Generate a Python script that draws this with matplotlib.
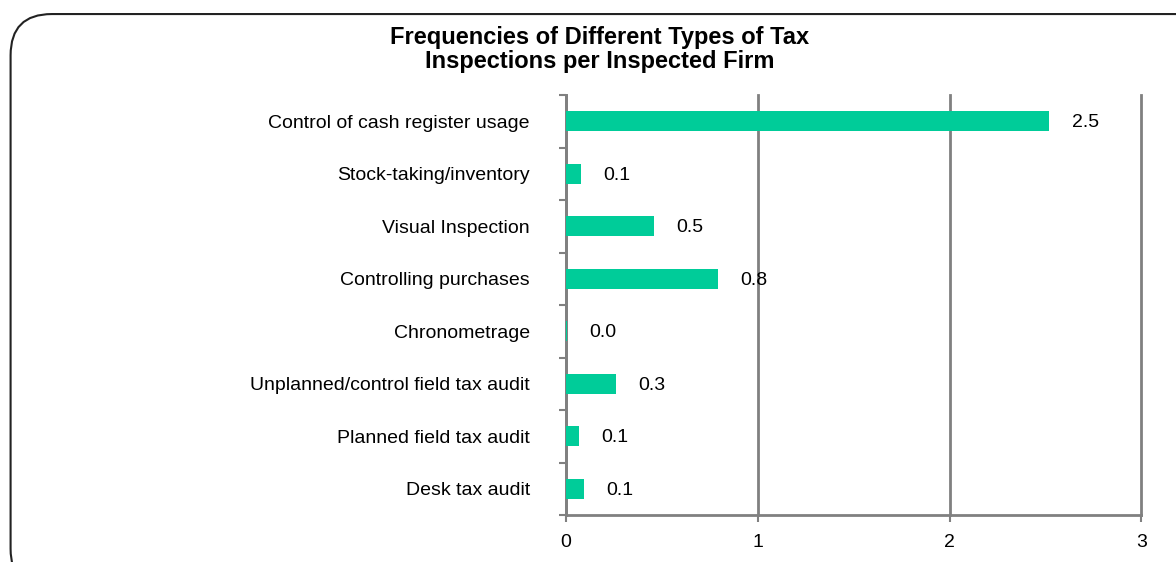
import matplotlib
matplotlib.use("Agg")
import matplotlib.pyplot as plt
from matplotlib.patches import FancyBboxPatch

categories = [
    "Control of cash register usage",
    "Stock-taking/inventory",
    "Visual Inspection",
    "Controlling purchases",
    "Chronometrage",
    "Unplanned/control field tax audit",
    "Planned field tax audit",
    "Desk tax audit",
]
values = [2.52, 0.08, 0.46, 0.79, 0.004, 0.26, 0.07, 0.095]
x_ticks = [0, 1, 2, 3]

plt.rcParams["font.family"] = ["Liberation Sans", "DejaVu Sans"]

fig = plt.figure(figsize=(11.76, 5.62), dpi=100)
ax = fig.add_axes([0.4813, 0.0836, 0.4893, 0.7473])

pos = list(range(len(categories)))
ax.barh(pos, values, height=0.38, color="#00CC99", zorder=3)

for y, v in zip(pos, values):
    ax.annotate(f"{v:.1f}", xy=(v, y), xytext=(16, -1), textcoords="offset points",
                va="center", ha="left", fontsize=14)

ax.set_xlim(0, 3)
ax.set_ylim(len(categories) - 0.5, -0.5)
ax.set_xticks(x_ticks)
ax.set_xticklabels([str(t) for t in x_ticks], fontsize=14)

# category boundaries get the tick marks, labels sit on minor ticks
ax.set_yticks([i - 0.5 for i in range(len(categories) + 1)])
ax.set_yticklabels([])
ax.set_yticks(pos, minor=True)
ax.set_yticklabels(categories, minor=True, fontsize=14)
ax.tick_params(axis="y", which="minor", length=0, pad=26)
ax.tick_params(axis="y", which="major", length=5, width=1.5, color="#808080", direction="out")
ax.tick_params(axis="x", length=5, width=1.5, color="#808080", pad=9)

ax.grid(axis="x", color="#808080", linewidth=2, zorder=0)
for gl in ax.get_xgridlines():
    gl.set_clip_on(False)
for side in ["top", "right"]:
    ax.spines[side].set_visible(False)
for side in ["left", "bottom"]:
    ax.spines[side].set_color("#808080")
    ax.spines[side].set_linewidth(2)

fig.text(0.51, 0.912, "Frequencies of Different Types of Tax\nInspections per Inspected Firm",
         ha="center", va="center", fontsize=17, fontweight="bold", linespacing=1.05)

frame = FancyBboxPatch((0.009, -0.05), 1.05, 1.025, transform=fig.transFigure,
                       boxstyle="round,pad=0,rounding_size=0.035", fill=False,
                       edgecolor="#222222", linewidth=1.5, mutation_aspect=2.1)
fig.patches.append(frame)

fig.savefig("out.png", dpi=100)
